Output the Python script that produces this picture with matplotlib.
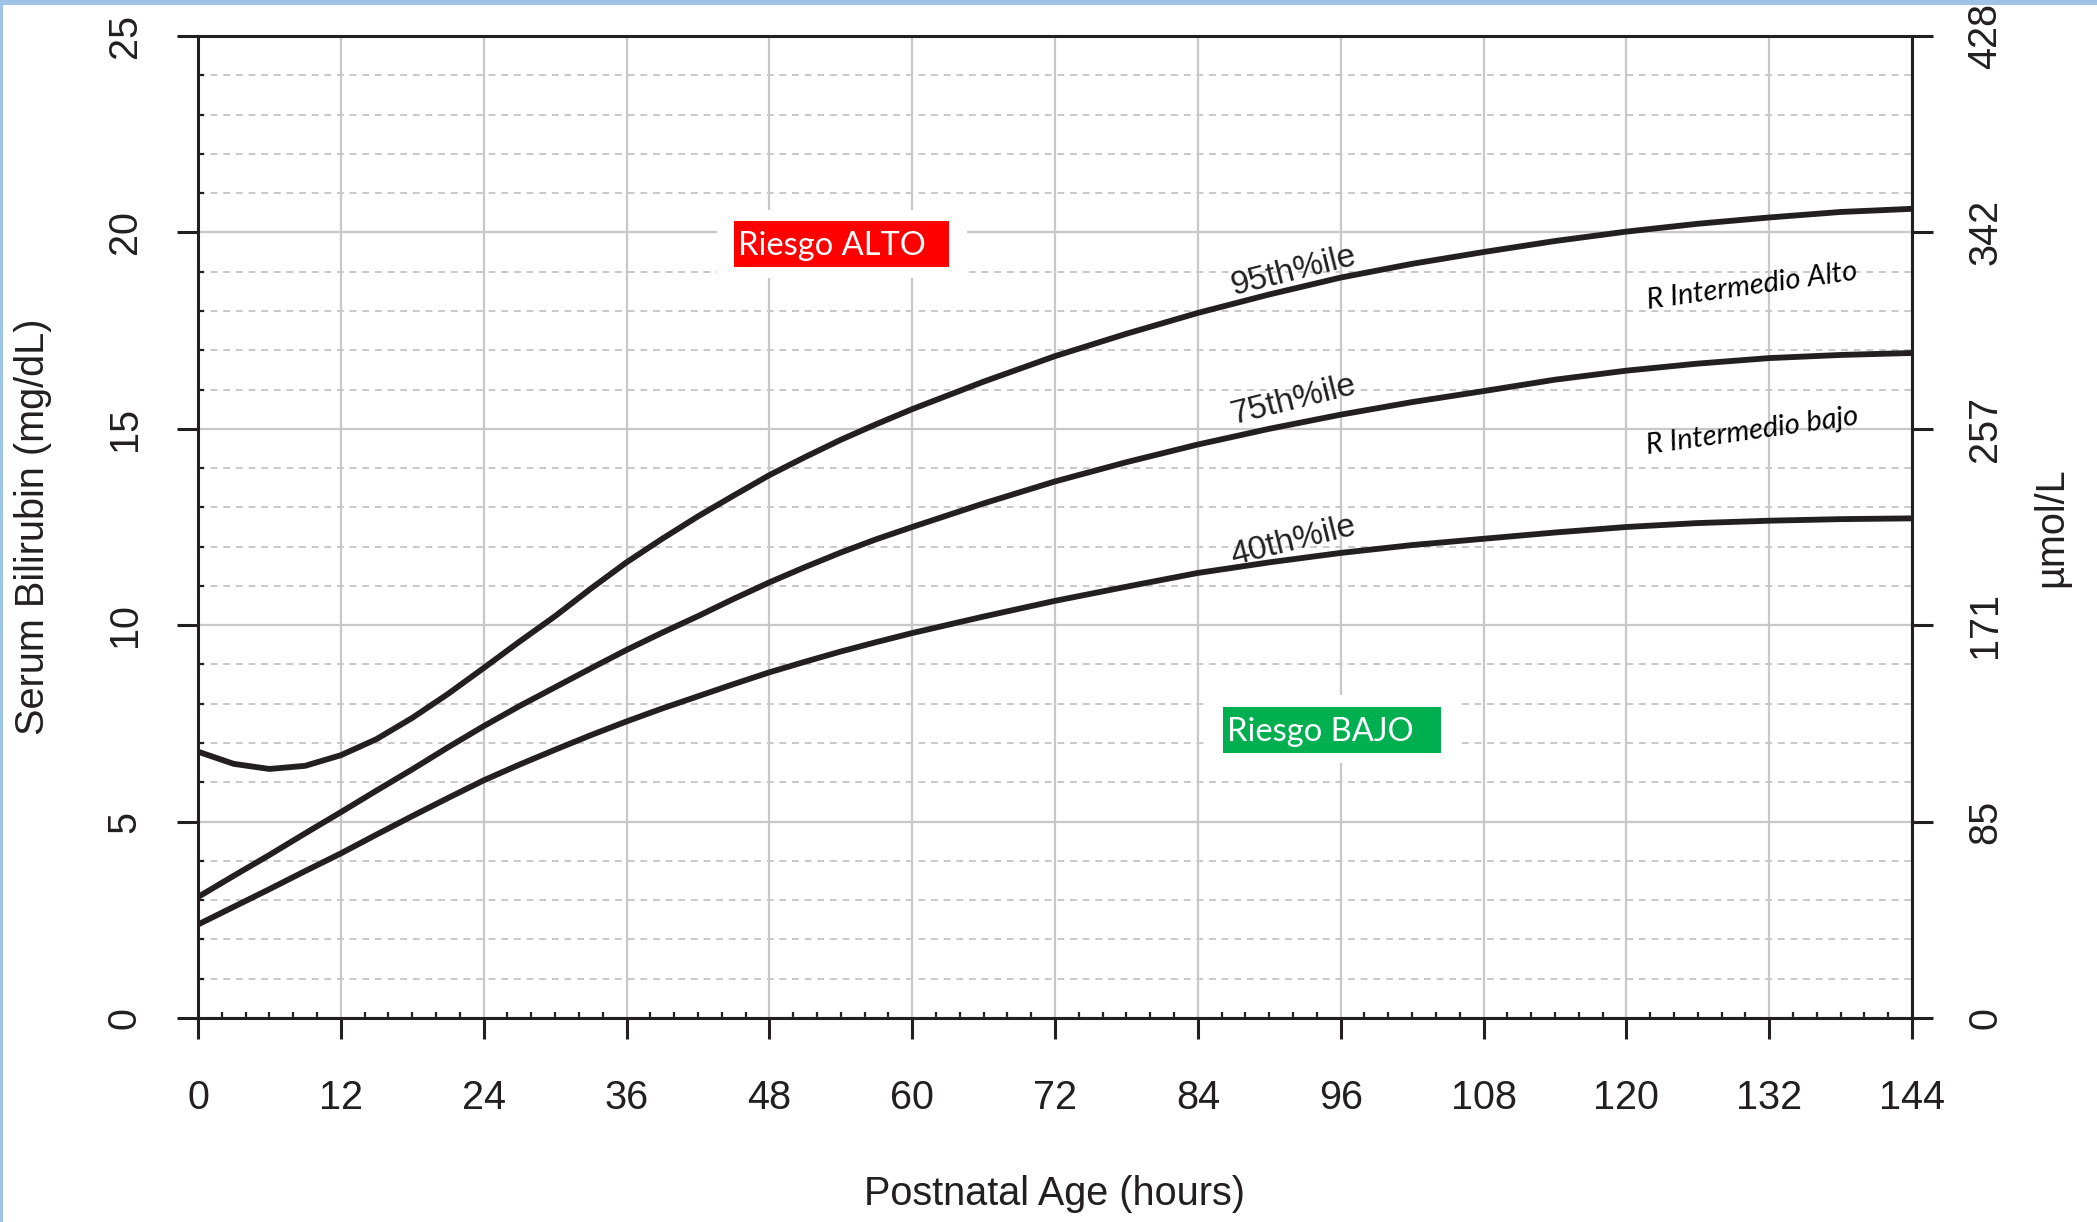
import matplotlib.pyplot as plt
from matplotlib.patches import Rectangle
from matplotlib.ticker import MultipleLocator

# hour-specific serum bilirubin percentiles (mg/dL)
hours = [0, 3, 6, 9, 12, 15, 18, 21, 24, 27, 30, 33, 36, 39, 42, 45, 48,
         51, 54, 57, 60, 66, 72, 78, 84, 90, 96, 102, 108, 114, 120, 126,
         132, 138, 144]
p95 = [6.78, 6.47, 6.34, 6.42, 6.69, 7.1, 7.64, 8.25, 8.91, 9.58, 10.23,
       10.93, 11.6, 12.2, 12.77, 13.3, 13.82, 14.28, 14.72, 15.12, 15.5,
       16.2, 16.85, 17.42, 17.95, 18.42, 18.85, 19.2, 19.5, 19.78, 20.02,
       20.22, 20.38, 20.52, 20.6]
p75 = [3.08, 3.62, 4.15, 4.7, 5.24, 5.79, 6.33, 6.89, 7.43, 7.94, 8.42,
       8.9, 9.37, 9.81, 10.23, 10.67, 11.09, 11.48, 11.85, 12.19, 12.5,
       13.1, 13.66, 14.15, 14.6, 15.0, 15.36, 15.68, 15.96, 16.25, 16.48,
       16.66, 16.8, 16.88, 16.93]
p40 = [2.38, 2.83, 3.28, 3.74, 4.19, 4.67, 5.14, 5.6, 6.05, 6.45, 6.83,
       7.2, 7.55, 7.88, 8.19, 8.5, 8.8, 9.07, 9.33, 9.57, 9.8, 10.22,
       10.62, 10.98, 11.33, 11.6, 11.84, 12.04, 12.2, 12.36, 12.5, 12.6,
       12.66, 12.7, 12.72]

x_ticks = list(range(0, 145, 12))
y_ticks = [0, 5, 10, 15, 20, 25]
umol_labels = ['0', '85', '171', '257', '342', '428']

ink = '#231f20'
grid_c = '#c8c8c8'

plt.rcParams['font.family'] = ['Liberation Sans', 'DejaVu Sans']

fig = plt.figure(figsize=(20.97, 12.22), dpi=100)
ax = fig.add_axes([198 / 2097, 1 - 1018 / 1222, 1714 / 2097, 982 / 1222])

for vals in (p95, p75, p40):
    ax.plot(hours, vals, color=ink, lw=4.2, solid_capstyle='butt',
            solid_joinstyle='round', zorder=6)

ax.set_xlim(0, 144)
ax.set_ylim(0, 25)
ax.set_xticks(x_ticks)
ax.set_yticks(y_ticks)
ax.xaxis.set_minor_locator(MultipleLocator(2))
ax.yaxis.set_minor_locator(MultipleLocator(1))

ax.grid(which='major', color=grid_c, lw=1.6, zorder=0)
ax.grid(which='minor', axis='y', color=grid_c, lw=1.4, dashes=(3.5, 3))
ax.set_axisbelow(True)

for s in ax.spines.values():
    s.set_color(ink)
    s.set_linewidth(2.2)

ax.tick_params(which='major', length=15, width=2.2, color=ink,
               labelsize=28.5, labelcolor=ink)
ax.tick_params(axis='x', which='major', pad=29)
ax.tick_params(axis='y', which='major', pad=24)
ax.tick_params(which='minor', direction='in', length=4, width=1.6, color=ink)
for lbl in ax.get_yticklabels():
    lbl.set_rotation(90)
    lbl.set_va('center')

ax.set_xlabel('Postnatal Age (hours)', fontsize=28.5, color=ink)
ax.xaxis.set_label_coords(0.5, -0.16)
ax.set_ylabel('Serum Bilirubin (mg/dL)', fontsize=28.5, color=ink)
ax.yaxis.set_label_coords(-0.0852, 0.5)

# right axis in umol/L
ax2 = ax.twinx()
ax2.set_ylim(0, 25)
ax2.set_yticks(y_ticks)
ax2.set_yticklabels(umol_labels)
ax2.tick_params(length=15, width=2.2, color=ink, labelsize=28.5,
                labelcolor=ink, pad=24)
for lbl in ax2.get_yticklabels():
    lbl.set_rotation(90)
    lbl.set_va('center')
for s in ax2.spines.values():
    s.set_visible(False)
ax2.set_ylabel('µmol/L', fontsize=28.5, color=ink)
ax2.yaxis.set_label_coords(1.070, 0.5)

# percentile labels along the curves
for txt, yv in (('95th%ile', 19.0), ('75th%ile', 15.73), ('40th%ile', 12.14)):
    ax.text(92.0, yv, txt, fontsize=24, color=ink, rotation=14,
            ha='center', va='center', zorder=7)

for txt, yv in (('R Intermedio Alto', 18.64), ('R Intermedio bajo', 14.93)):
    ax.text(130.6, yv, txt, fontsize=21, family=['Lato', 'DejaVu Sans'],
            style='italic', color='black', rotation=8,
            ha='center', va='center', zorder=7)

# risk zone tags
zones = [
    ('Riesgo ALTO', '#ff0000', (43.6, 18.83, 21.0, 1.73), (45.0, 19.11, 18.1, 1.17)),
    ('Riesgo BAJO', '#00b050', (84.6, 6.49, 21.4, 1.73), (86.1, 6.74, 18.3, 1.17)),
]
for txt, col, clear, box in zones:
    ax.add_patch(Rectangle(clear[:2], clear[2], clear[3], facecolor='white',
                           edgecolor='none', zorder=2))
    ax.add_patch(Rectangle(box[:2], box[2], box[3], facecolor=col,
                           edgecolor='none', zorder=3))
    ax.text(box[0] + 0.35, box[1] + box[3] / 2 - 0.05, txt, fontsize=23.5,
            family=['Lato', 'DejaVu Sans'], color='white',
            ha='left', va='center', zorder=4)

# light blue frame on the top and left edges
fig.add_artist(Rectangle((0, 1 - 5 / 1222), 1, 5 / 1222, transform=fig.transFigure,
                         facecolor='#9dc3e6', edgecolor='none'))
fig.add_artist(Rectangle((0, 0), 3 / 2097, 1, transform=fig.transFigure,
                         facecolor='#9dc3e6', edgecolor='none'))

fig.savefig('out.png', dpi=100)
